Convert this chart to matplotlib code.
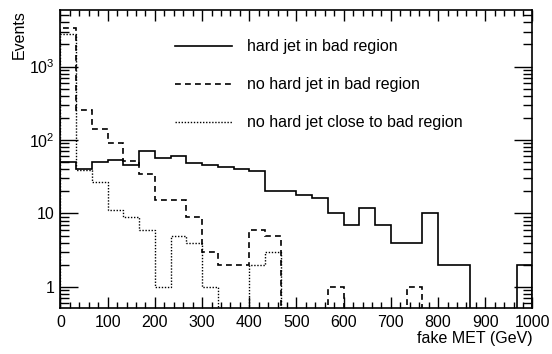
import numpy as np
import matplotlib
matplotlib.use('Agg')
import matplotlib.pyplot as plt
from matplotlib.ticker import FixedLocator, LogLocator, FuncFormatter, MultipleLocator

plt.rcParams['font.family'] = ['Liberation Sans', 'DejaVu Sans']
plt.rcParams['mathtext.fontset'] = 'custom'
plt.rcParams['mathtext.rm'] = 'Liberation Sans'

# 30 bins from 0 to 1000 GeV
edges = np.linspace(0, 1000, 31)

hard_jet_bad = [50, 40, 50, 54, 46, 70, 57, 60, 49, 45, 43, 40, 38, 20, 20,
                18, 16, 10, 7, 12, 7, 4, 4, 10, 2, 2, 0, 0, 0, 2]
no_hard_jet_bad = [3330, 254, 140, 91, 52, 34, 15, 15, 9, 3, 2, 2, 6, 5, 0,
                   0, 0, 1, 0, 0, 0, 0, 1, 0, 0, 0, 0, 0, 0, 0]
no_hard_jet_close = [2770, 39, 27, 11, 9, 6, 1, 5, 4, 1, 0, 0, 2, 3, 0,
                     0, 0, 0, 0, 0, 0, 0, 0, 0, 0, 0, 0, 0, 0, 0]

labels = ['hard jet in bad region', 'no hard jet in bad region',
          'no hard jet close to bad region']

fig = plt.figure(figsize=(5.52, 3.54), dpi=100)
ax = fig.add_axes([0.1096, 0.130, 0.855, 0.8417])

floor = 1e-3  # empty bins go below the frame, like ROOT
styles = [dict(ls='-', lw=1.2), dict(ls=(0, (3.5, 2.5)), lw=1.2), dict(ls=(0, (1, 1.2)), lw=1.0)]
for vals, lab, st in zip([hard_jet_bad, no_hard_jet_bad, no_hard_jet_close], labels, styles):
    v = np.where(np.array(vals) > 0, vals, floor)
    ax.stairs(v, edges, baseline=floor, color='black', label=lab, **st)

ax.set_yscale('log')
ax.set_xlim(0, 1000)
ax.set_ylim(0.515, 5890)

ax.xaxis.set_major_locator(MultipleLocator(100))
ax.xaxis.set_minor_locator(MultipleLocator(20))
ax.yaxis.set_major_locator(FixedLocator([1, 10, 100, 1000]))
ax.yaxis.set_minor_locator(LogLocator(base=10, subs=np.arange(2, 10), numticks=20))


def ylab(y, pos):
    if y == 1:
        return '1'
    if y == 10:
        return '10'
    return r'$\mathregular{10^{%d}}$' % round(np.log10(y))


ax.yaxis.set_major_formatter(FuncFormatter(ylab))
ax.yaxis.set_minor_formatter(FuncFormatter(lambda y, p: ''))

ax.tick_params(which='both', direction='in', top=True, right=True, labelsize=11.5, width=1)
ax.tick_params(axis='x', which='major', length=8, pad=5)
ax.tick_params(axis='x', which='minor', length=4)
ax.tick_params(axis='y', which='major', length=13, pad=4)
ax.tick_params(axis='y', which='minor', length=6.5)
for s in ax.spines.values():
    s.set_linewidth(1.2)

ax.set_xlabel('fake MET (GeV)', fontsize=11.5, loc='right', labelpad=1)
ax.set_ylabel('Events', fontsize=11.5, loc='top', labelpad=2)

ax.legend(loc='upper left', bbox_to_anchor=(0.213, 0.95), frameon=False,
          fontsize=11.5, handlelength=3.56, handletextpad=0.95, labelspacing=1.44)

fig.savefig('out.png', dpi=100)
